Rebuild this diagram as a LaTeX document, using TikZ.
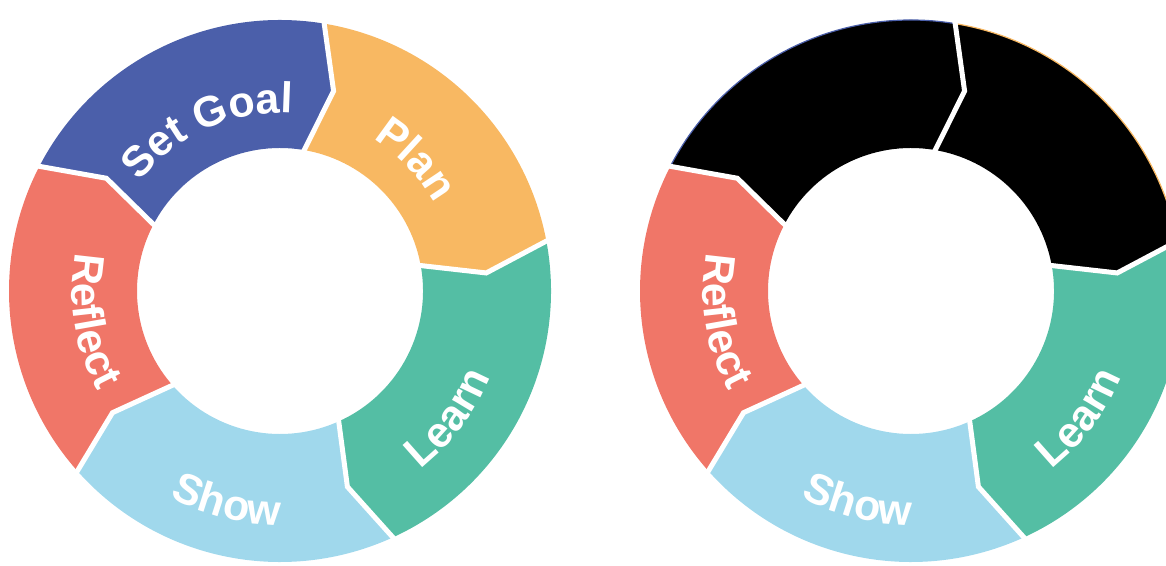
\documentclass[tikz,border=0pt]{standalone}
\usepackage{fontspec}
\newfontfamily\labelfont{Liberation Sans}
\usetikzlibrary{decorations.text}
\definecolor{goalblue}{RGB}{75,95,170}
\definecolor{planorange}{RGB}{248,184,98}
\definecolor{learngreen}{RGB}{84,190,164}
\definecolor{showblue}{RGB}{160,216,236}
\definecolor{reflectred}{RGB}{240,118,104}

% ring radii (pt)
\newcommand{\outrad}{271}
\newcommand{\midrad}{207}
\newcommand{\inrad}{143}
\newcommand{\ringfont}{\labelfont\bfseries\fontsize{43}{43}\selectfont}
% one step of the ring, from angle #1 clockwise to angle #2
\newcommand{\ringseg}[2]{(#1:\outrad) arc[start angle=#1, end angle=#2, radius=\outrad]
  -- (#2-6:\midrad) -- (#2:\inrad) arc[start angle=#2, end angle=#1, radius=\inrad]
  -- (#1-6:\midrad) -- cycle}

\begin{document}
\begin{tikzpicture}[x=1pt, y=1pt,
    gap/.style={white, line width=5pt, line join=miter},
    rim/.style={draw=#1, line width=1.2pt},
    ringlabel/.style={decorate, decoration={text along path, text align=center, text color=white, text={|\ringfont|#1}}}
]

\useasboundingbox (0,0) rectangle (1166,565);
\clip (0,0) rectangle (1166,565);

% Full cycle
\begin{scope}[shift={(280,274)}]
\fill[goalblue] \ringseg{153}{81};
\fill[planorange] \ringseg{81}{11};
\fill[learngreen] \ringseg{11}{-65};
\fill[showblue] \ringseg{-65}{-138};
\fill[reflectred] \ringseg{222}{153};

% cuts between steps
\draw[gap] (153:277) -- (147:\midrad) -- (153:137);
\draw[gap] (81:277) -- (75:\midrad) -- (81:137);
\draw[gap] (11:277) -- (5:\midrad) -- (11:137);
\draw[gap] (-65:277) -- (-71:\midrad) -- (-65:137);
\draw[gap] (-138:277) -- (-144:\midrad) -- (-138:137);

% labels
\path[ringlabel=Set Goal] (154:178) arc[start angle=154, end angle=74, radius=178];
\path[ringlabel=Plan] (84:178) arc[start angle=84, end angle=4, radius=178];
\path[ringlabel=Learn] (-77:227) arc[start angle=-77, end angle=3, radius=227];
\path[ringlabel=Show] (-144:234) arc[start angle=-144, end angle=-64, radius=234];
\path[ringlabel=Reflect] (149:208) arc[start angle=149, end angle=229, radius=208];
\end{scope}

% Same cycle, first two steps blacked out
\begin{scope}[shift={(911,274)}]
\fill[black] \ringseg{153}{81};
\fill[black] \ringseg{81}{11};
\fill[learngreen] \ringseg{11}{-65};
\fill[showblue] \ringseg{-65}{-138};
\fill[reflectred] \ringseg{222}{153};

% thin trace of the old colours on the rim
\path[rim=goalblue] (153:\outrad) arc[start angle=153, end angle=81, radius=\outrad];
\path[rim=planorange] (81:\outrad) arc[start angle=81, end angle=11, radius=\outrad];

% cuts between steps
\draw[gap] (153:277) -- (147:\midrad) -- (153:137);
\draw[gap] (81:277) -- (75:\midrad) -- (81:137);
\draw[gap] (11:277) -- (5:\midrad) -- (11:137);
\draw[gap] (-65:277) -- (-71:\midrad) -- (-65:137);
\draw[gap] (-138:277) -- (-144:\midrad) -- (-138:137);

% labels
\path[ringlabel=Learn] (-77:227) arc[start angle=-77, end angle=3, radius=227];
\path[ringlabel=Show] (-144:234) arc[start angle=-144, end angle=-64, radius=234];
\path[ringlabel=Reflect] (149:208) arc[start angle=149, end angle=229, radius=208];
\end{scope}

\end{tikzpicture}
\end{document}
